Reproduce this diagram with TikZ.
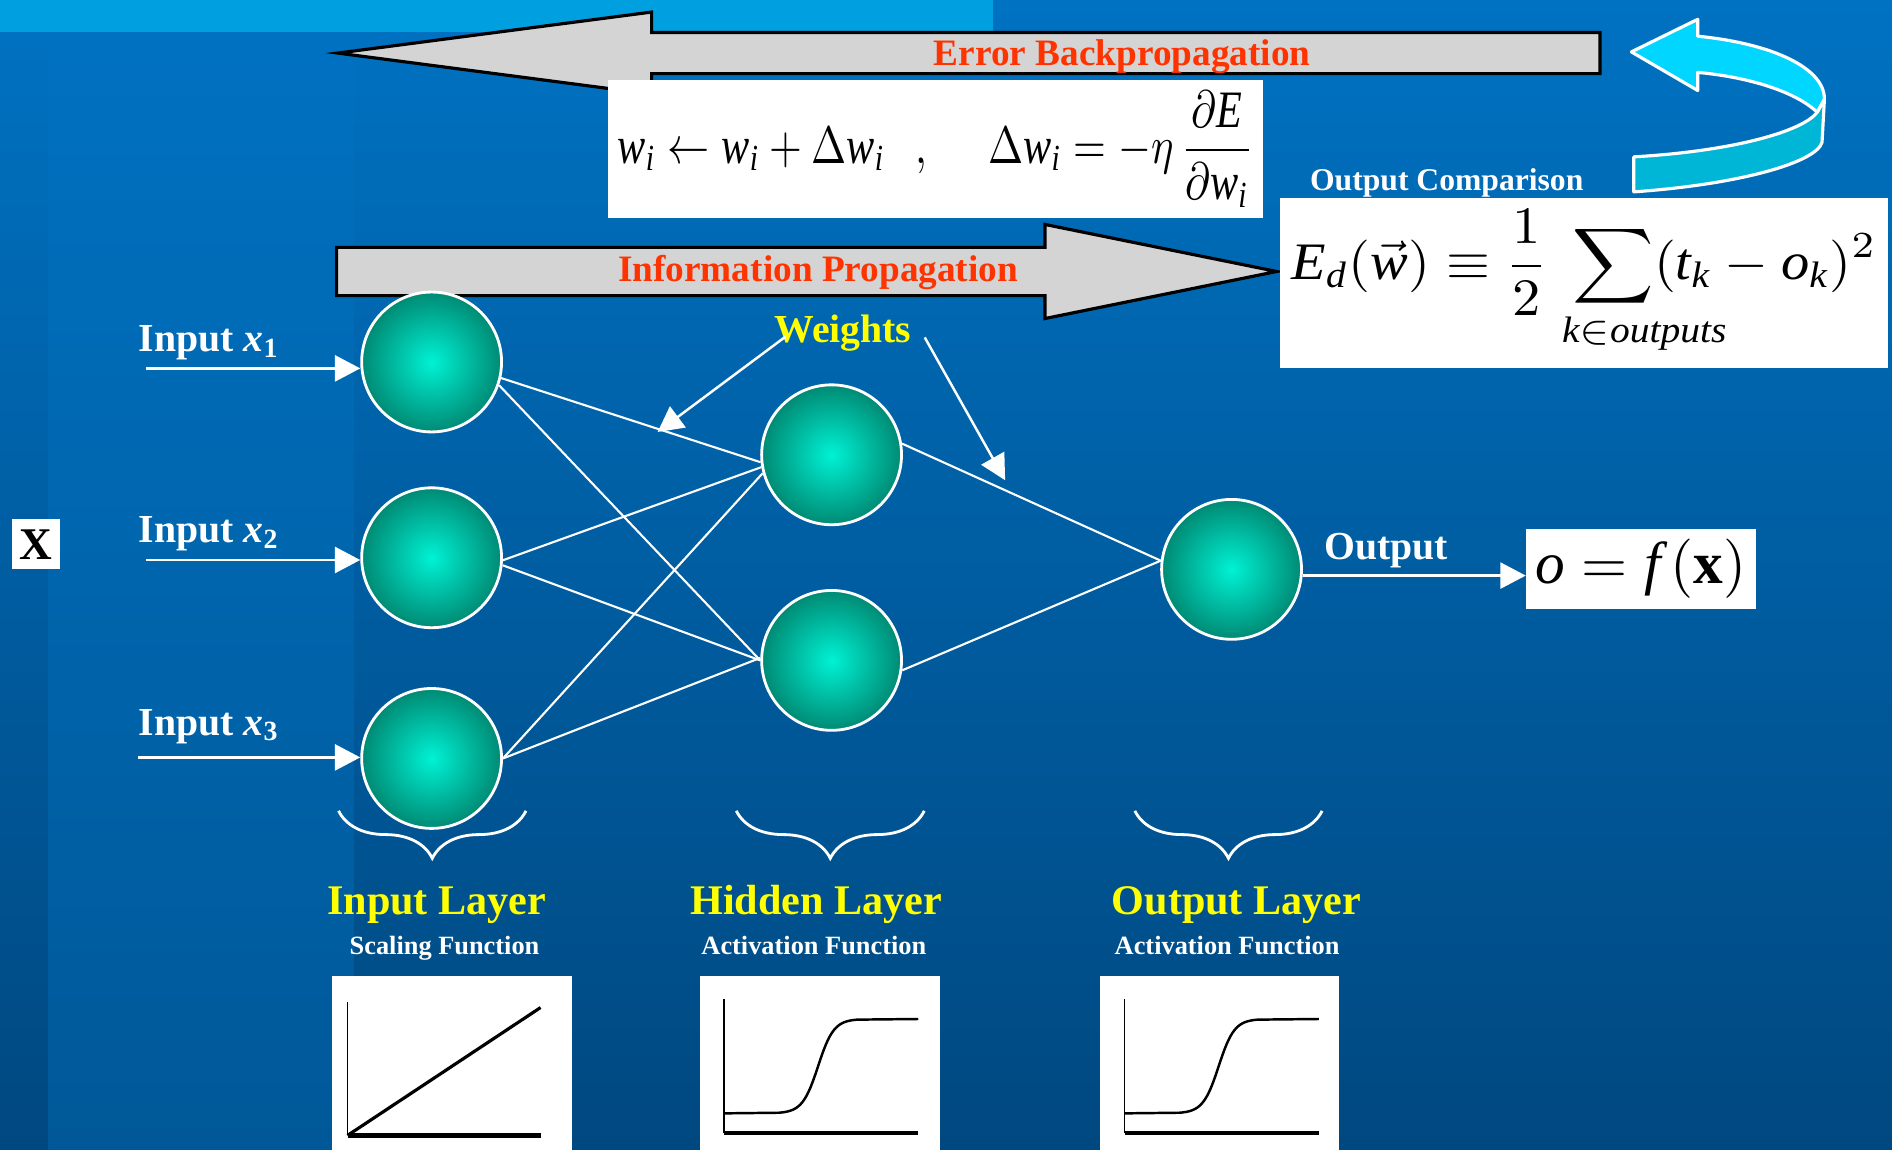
\documentclass[tikz,border=0pt]{standalone}
\usepackage{fontspec}
\setmainfont{Liberation Serif}
\usepackage{amsmath}
\usepackage{mathtools}
\usepackage{graphicx}
\usetikzlibrary{positioning,arrows.meta,decorations.pathreplacing}
\definecolor{bgtop}{RGB}{0,114,194}
\definecolor{bgbot}{RGB}{0,72,128}
\definecolor{bgleft}{RGB}{0,88,152}
\definecolor{stripblue}{RGB}{0,160,224}
\definecolor{agrey}{RGB}{212,212,212}
\definecolor{errred}{RGB}{255,51,0}
\definecolor{wyellow}{RGB}{255,255,0}
\definecolor{nin}{RGB}{0,242,212}
\definecolor{nout}{RGB}{0,138,116}
\definecolor{cyanlight}{RGB}{0,214,255}
\definecolor{cyandark}{RGB}{0,182,214}
\newcommand{\tv}[1]{\mathit{#1}}
\tikzset{
  neuron/.style={circle,draw=white,line width=0.8pt,minimum size=39.8pt,inner sep=0pt,
    shading=radial,inner color=nin,outer color=nout},
  wline/.style={white,line width=0.6pt},
  inarrow/.style={white,line width=0.7pt,-{Triangle[length=7.2pt,width=7.4pt]}},
  bigarrow/.style={fill=agrey,draw=black,line width=0.9pt},
  loopface/.style={draw=white,line width=0.9pt,line join=round},
  arrowlbl/.style={text=errred,inner sep=0pt,font=\fontsize{10.6}{12}\selectfont\bfseries},
  wlbl/.style={text=white,inner sep=0pt,font=\fontsize{11.3}{13}\selectfont\bfseries},
  weightlbl/.style={text=wyellow,inner sep=0pt,font=\fontsize{11.3}{13}\selectfont\bfseries},
  cmplbl/.style={text=white,inner sep=0pt,font=\fontsize{9}{11}\selectfont\bfseries},
  layerlbl/.style={text=wyellow,inner sep=0pt,font=\fontsize{12}{14}\selectfont\bfseries},
  funclbl/.style={text=white,inner sep=0pt,font=\fontsize{7.5}{9}\selectfont\bfseries},
  fbox/.style={fill=white,inner sep=0pt},
  layerbrace/.style={white,line width=0.8pt,decorate,decoration={brace,amplitude=13.5pt}}
}

\begin{document}
\begin{tikzpicture}[x=0.3433pt,y=-0.3433pt,node distance=15.1pt and 73.2pt]
\useasboundingbox (0,0) rectangle (1568,953);
\clip (0,0) rectangle (1568,953);
% background
\shade[top color=bgtop,bottom color=bgbot] (0,0) rectangle (1568,953);
\shade[top color=bgtop,bottom color=bgleft] (40,0) rectangle (293,953);
\fill[stripblue] (0,0) rectangle (823,26.8);

% error backpropagation
\filldraw[bigarrow] (1326,27) -- (540,27) -- (540,10) -- (280,44) -- (540,78) -- (540,61) -- (1326,61) -- cycle;
\node[arrowlbl,anchor=base] (errlbl) at (930,53.9) {Error Backpropagation};
\node[fbox,minimum width=186.4pt,minimum height=39.5pt] (upd) at (775.5,123.5)
{\resizebox*{181pt}{33pt}{$\tv{w}_{\tv{i}}\leftarrow\tv{w}_{\tv{i}}+\Delta\tv{w}_{\tv{i}}\;\;\,,\quad\;\Delta\tv{w}_{\tv{i}}=-\eta\,\dfrac{\partial\tv{E}}{\partial\tv{w}_{\tv{i}}}$}};

% information propagation
\filldraw[bigarrow] (279,205) -- (866,205) -- (866,186) -- (1058,225) -- (866,264) -- (866,245) -- (279,245) -- cycle;
\node[arrowlbl,anchor=base] (infolbl) at (678,233.4) {Information Propagation};

% loop arrow
\filldraw[loopface,fill=cyandark] (1512,82) -- (1510,118) .. controls (1505,135) and (1440,153) .. (1354,159)
  -- (1354,130) .. controls (1440,125) and (1495,108) .. (1506,93) -- cycle;
\filldraw[loopface,fill=cyanlight] (1352,43) -- (1407,16) -- (1407,30) .. controls (1468,36) and (1512,56) .. (1512,82)
  -- (1506,93) .. controls (1488,76) and (1450,64) .. (1407,60) -- (1407,75) -- cycle;

\node[cmplbl,anchor=base] (cmp) at (1199,158) {Output Comparison};
\node[fbox,minimum width=173pt,minimum height=48.4pt] (err) at (1313,234.5)
{\resizebox*{166.5pt}{41.5pt}{$\tv{E}_{\tv{d}}(\vec{\tv{w}})\equiv\dfrac{1}{2}\;\displaystyle\sum_{\mathclap{\hspace{1.1em}\tv{k}\in\tv{outputs}}}(\tv{t}_{\tv{k}}-\tv{o}_{\tv{k}})^2$}};

% network
\node[neuron] (I1) at (357.7,300) {};
\node[neuron,below=of I1] (I2) {};
\node[neuron,below=16.5pt of I2] (I3) {};
\node[neuron,right=of I1,yshift=-26.4pt] (H1) {};
\node[neuron,below=17.9pt of H1] (H2) {};
\node[neuron,right=of H1,yshift=-32.6pt] (O) {};

\draw[wline] (I1.-13) -- (H1.186);
\draw[wline] (I1.-19) -- (H2.180);
\draw[wline] (I2.-2) -- (H1.190);
\draw[wline] (I2.-6) -- (H2.180);
\draw[wline] (I3.0) -- (H1.195);
\draw[wline] (I3.0) -- (H2.178);
\draw[wline] (H1.9) -- (O.173);
\draw[wline] (H2.-8) -- (O.173);

% inputs
\node[fbox,minimum width=13.7pt,minimum height=14.4pt,font=\fontsize{12.9}{14}\selectfont\bfseries] (xvec) at (30,451) {X};
\node[wlbl,anchor=base west] (in1) at (114.6,291.5) {Input \textit{x}\textsubscript{1}};
\node[wlbl,anchor=base west] (in2) at (114.6,449.5) {Input \textit{x}\textsubscript{2}};
\node[wlbl,anchor=base west] (in3) at (114.6,609.2) {Input \textit{x}\textsubscript{3}};
\coordinate (x1) at (121,305.3);
\coordinate (x2) at (121,464.1);
\coordinate (x3) at (114.6,627.7);
\draw[inarrow] (x1) -- (x1 -| I1.west);
\draw[inarrow] (x2) -- (x2 -| I2.west);
\draw[inarrow] (x3) -- (x3 -| I3.west);

% weights
\node[weightlbl,anchor=base] (weights) at (698.6,284) {Weights};
\coordinate (wl) at (545,358);
\coordinate (wr) at (833,398);
\draw[inarrow] ([xshift=3.3pt,yshift=1.7pt]weights.base west) -- (wl);
\draw[inarrow] ([xshift=3.6pt,yshift=1.5pt]weights.base east) -- (wr);

% output
\node[wlbl,anchor=base west] (outlbl) at (1096.8,463.6) {Output};
\node[fbox,minimum width=65.2pt,minimum height=23pt] (ofx) at (1360,471.5) {\resizebox{60pt}{!}{$\tv{o}=\tv{f}\,(\mathbf{x})$}};
\draw[inarrow] (O.355) -- (O.355 -| ofx.west);

% layers
\draw[layerbrace] (435.9,672) -- (280.6,672);
\draw[layerbrace] (766,672) -- (610.2,672);
\draw[layerbrace] (1095.7,672) -- (940.5,672);
\node[layerlbl,anchor=base] (inlayer) at (362,757.5) {Input Layer};
\node[layerlbl,anchor=base] (hidlayer) at (676.5,757.5) {Hidden Layer};
\node[layerlbl,anchor=base] (outlayer) at (1024.8,757.5) {Output Layer};
\node[funclbl,anchor=base] (infunc) at (368.4,791) {Scaling Function};
\node[funclbl,anchor=base] (hidfunc) at (674.5,791) {Activation Function};
\node[funclbl,anchor=base] (outfunc) at (1017,791) {Activation Function};

% transfer functions
\fill[white] (275,809) rectangle (474,960);
\draw[line width=0.4pt] (288,830) -- (288,941);
\draw[line width=1.4pt] (288,941) -- (448,941);
\draw[line width=0.9pt] (288,941) -- (448,835);

\fill[white] (580,809) rectangle (779,960);
\draw[line width=0.4pt] (600,828) -- (600,939);
\draw[line width=1.4pt] (600,939) -- (761,939);
\draw[line width=0.7pt] (600,922.7) -- plot[domain=-5:5,samples=41] ({678+6.5*\x},{922.7-78.2/(1+exp(-\x))}) -- (761,844.5);

\fill[white] (912,809) rectangle (1110,960);
\draw[line width=0.4pt] (932,828) -- (932,939);
\draw[line width=1.4pt] (932,939) -- (1093,939);
\draw[line width=0.7pt] (932,922.7) -- plot[domain=-5:5,samples=41] ({1010+6.5*\x},{922.7-78.2/(1+exp(-\x))}) -- (1093,844.5);
\end{tikzpicture}
\end{document}
